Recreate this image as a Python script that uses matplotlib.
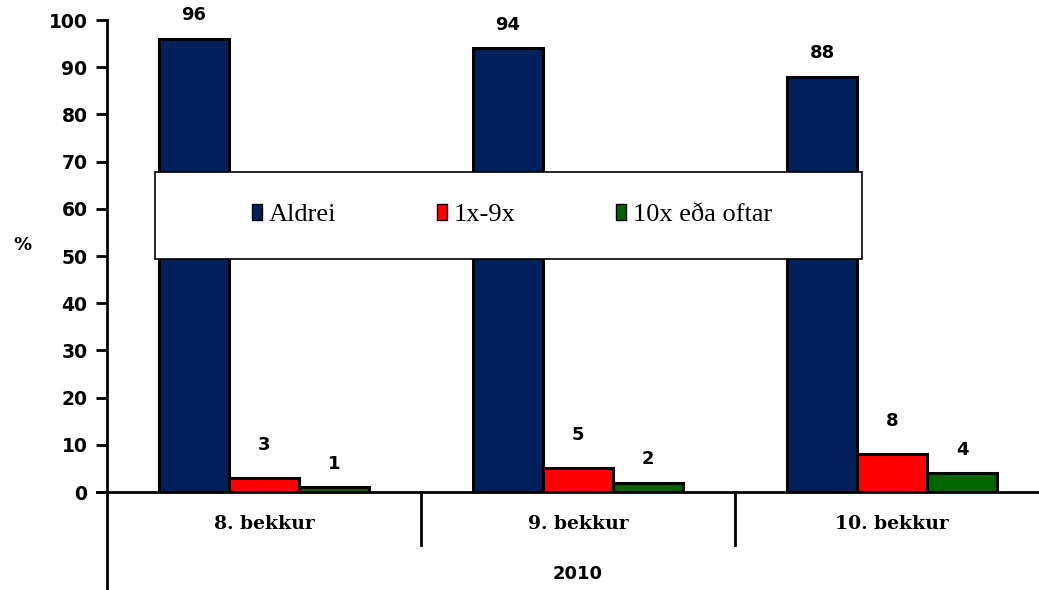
import numpy as np
import matplotlib.pyplot as plt
from matplotlib.patches import Rectangle
from matplotlib.lines import Line2D

# Gögn
flokkar = ["8. bekkur", "9. bekkur", "10. bekkur"]
rodir = ["Aldrei", "1x-9x", "10x eða oftar"]
aldrei = [96, 94, 88]
einu_til_niu = [3, 5, 8]
tiu_eda_oftar = [1, 2, 4]
ar = "2010"
litir = ["#001F5B", "#FF0000", "#006400"]

fig = plt.figure(figsize=(10.39, 5.90), dpi=100)
ax = fig.add_axes([107 / 1039, 98 / 590, 932 / 1039, 472 / 590])

x = np.arange(len(flokkar))
w = 0.223
gildi = [aldrei, einu_til_niu, tiu_eda_oftar]
bil = [5.0, 7.0, 5.0]  # fjarlægð merkis frá súlu
for k, (nafn, g) in enumerate(zip(rodir, gildi)):
    bars = ax.bar(x + (k - 1) * w, g, w, color=litir[k], edgecolor="black",
                  linewidth=2.2, label=nafn, zorder=2)
    for b, v in zip(bars, g):
        ax.text(b.get_x() + b.get_width() / 2, v + bil[k], str(v), ha="center",
                va="center", fontsize=13, fontweight="bold")

ax.set_xlim(-0.5, 2.5 - 10 / 313)
ax.set_ylim(0, 100)
ax.set_yticks(range(0, 101, 10))
ax.tick_params(axis="y", direction="out", length=8, width=2, labelsize=13.5, pad=6)
for t in ax.get_yticklabels():
    t.set_fontweight("bold")
ax.set_xticks([])

for s in ["top", "right", "bottom"]:
    ax.spines[s].set_visible(False)
ax.spines["left"].set_linewidth(2)
ax.spines["left"].set_bounds(0, 100)

# x-ás lína og framlenging vinstri áss niður
ax.add_line(Line2D([-10 / 313 - 0.5, 2.5], [0, 0], color="black", lw=2,
                   clip_on=False, zorder=3))
ax.add_line(Line2D([0, 0], [0, -98 / 472], transform=ax.transAxes,
                   color="black", lw=2, clip_on=False))
for sep in [0.5, 1.5]:
    ax.add_line(Line2D([sep, sep], [0, -11.2], color="black", lw=2, clip_on=False))

for xi, f in zip(x, flokkar):
    ax.text(xi, -6.8, f, ha="center", va="center", fontsize=13.5,
            fontweight="bold", family="DejaVu Serif")
ax.text(1, -17.3, ar, ha="center", va="center", fontsize=13, fontweight="bold")

fig.text(22 / 1039, 1 - 245 / 590, "%", ha="center", va="center", fontsize=13,
         fontweight="bold")

# Skýringarreitur
ax.add_patch(Rectangle((155 / 1039, 1 - 259 / 590), 707 / 1039, 87 / 590,
                       transform=fig.transFigure, facecolor="white",
                       edgecolor="black", linewidth=1.2, zorder=5, clip_on=False))
leg = ax.legend(loc="center", bbox_to_anchor=(512 / 1039, 1 - 215 / 590),
                bbox_transform=fig.transFigure, ncol=3, frameon=False,
                prop={"family": "Liberation Serif", "size": 19},
                handlelength=0.4, handleheight=0.6, handletextpad=0.25,
                columnspacing=3.8)
leg.set_zorder(6)
for h in leg.legend_handles:
    h.set_linewidth(1)

fig.savefig("out.png", dpi=100)
